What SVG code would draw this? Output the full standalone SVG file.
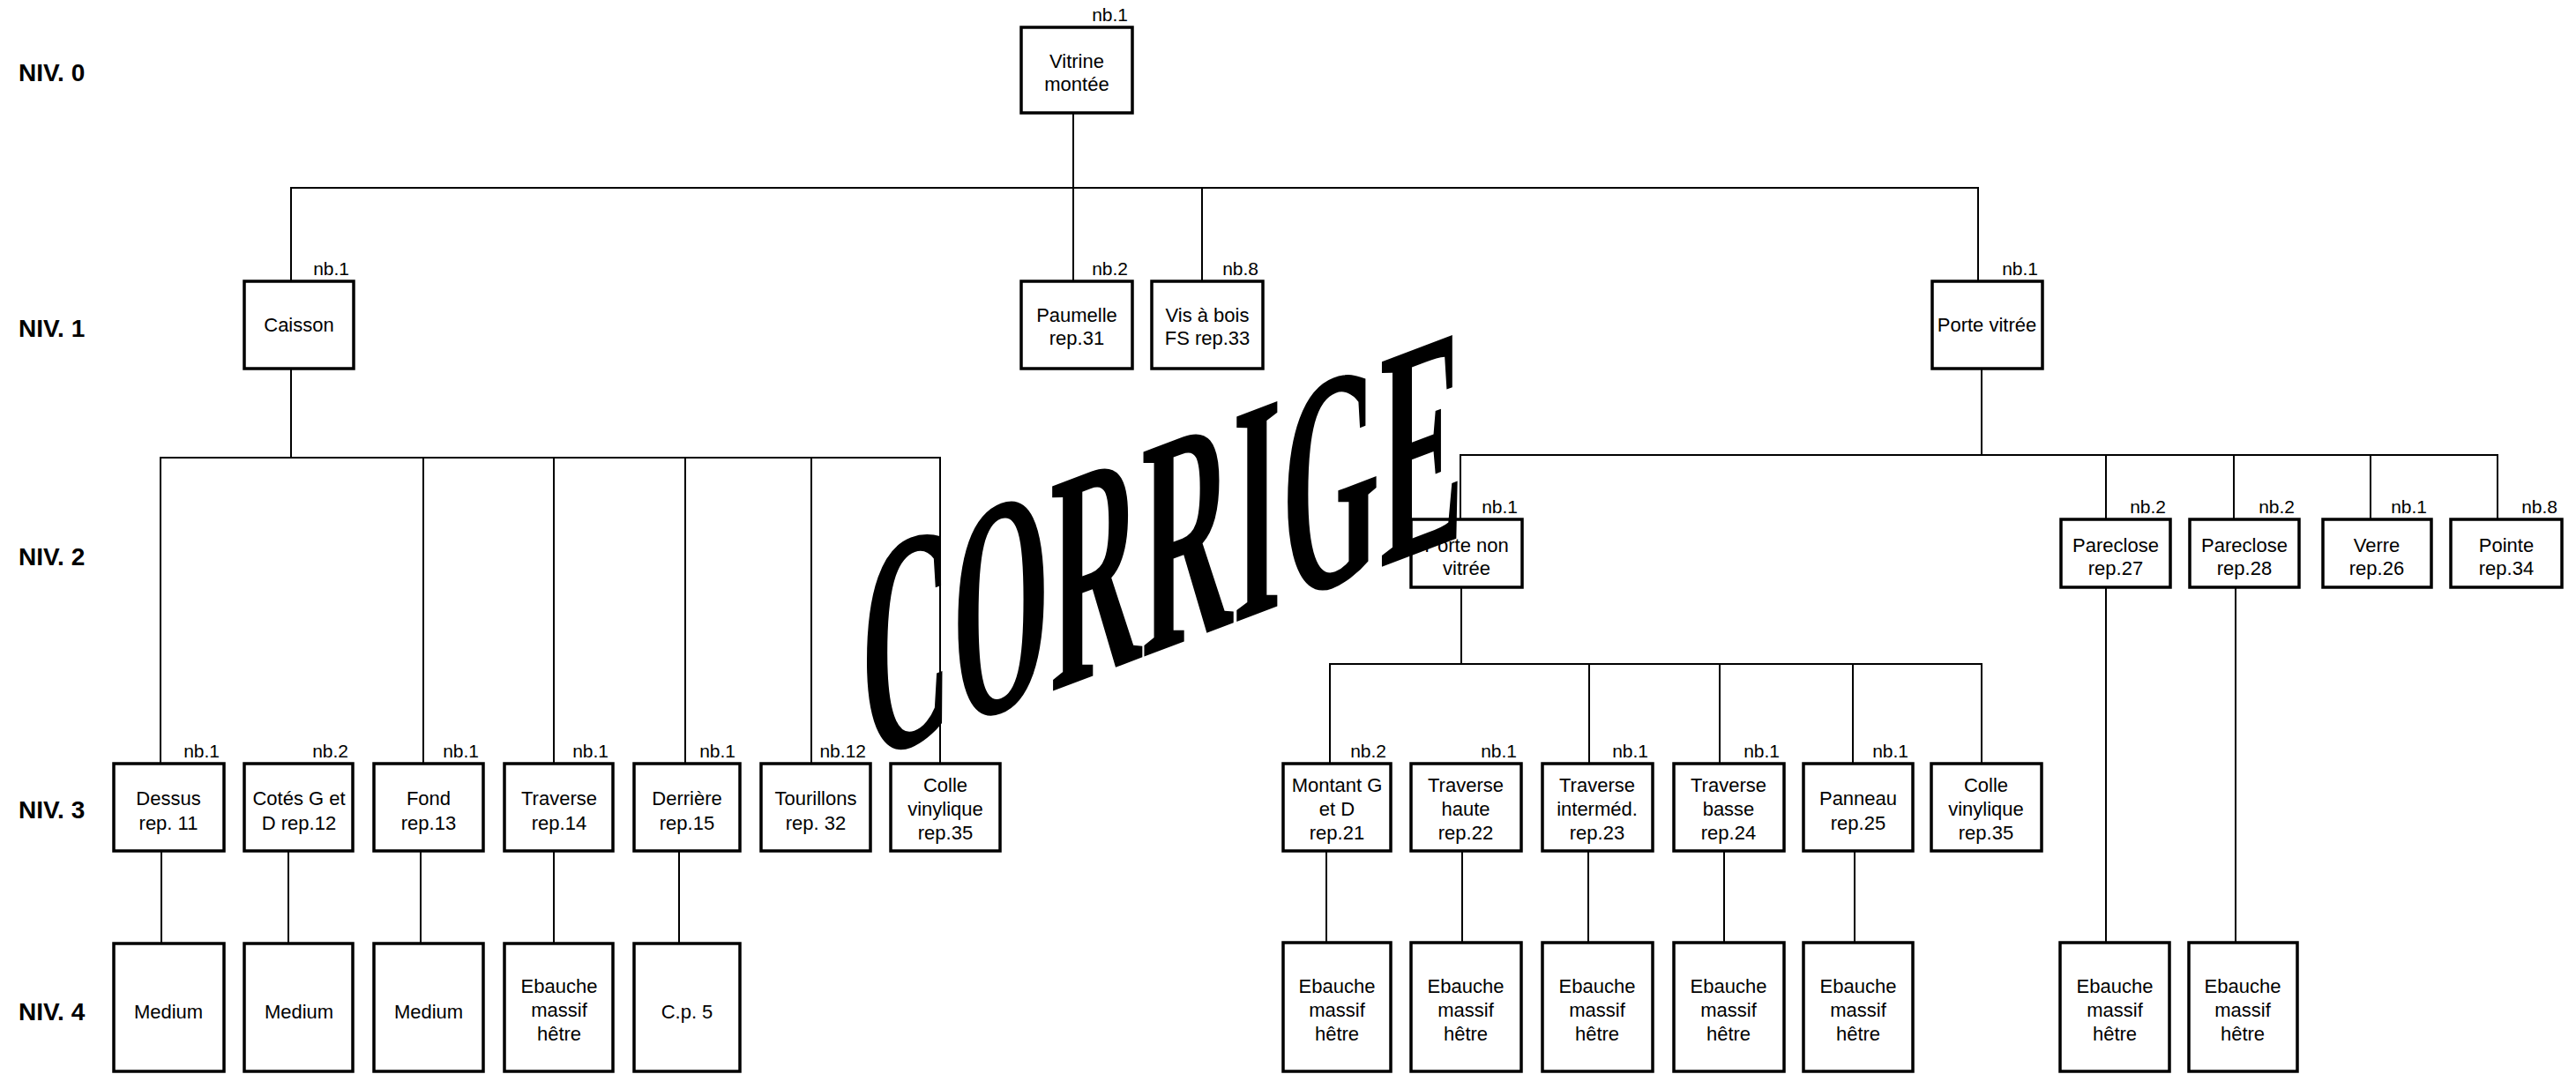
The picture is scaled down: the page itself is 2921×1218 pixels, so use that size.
<svg xmlns="http://www.w3.org/2000/svg" width="2921" height="1218" viewBox="0 0 2921 1218">
<style>
.box{fill:#fff;stroke:#000;stroke-width:3.5}
.ln{fill:none;stroke:#000;stroke-width:2}
text{font-family:"Liberation Sans",Arial,sans-serif;fill:#000}
.t{font-size:22px;text-anchor:middle}
.nb{font-size:21px;text-anchor:end}
.niv{font-size:28px;font-weight:bold}
.wm{font-family:"Liberation Serif","Times New Roman",serif;font-weight:bold;font-size:355px}
</style>
<rect width="2921" height="1218" fill="#fff"/>
<g id="levels">
<text class="niv" x="21" y="92">NIV. 0</text>
<text class="niv" x="21" y="382">NIV. 1</text>
<text class="niv" x="21" y="641">NIV. 2</text>
<text class="niv" x="21" y="928">NIV. 3</text>
<text class="niv" x="21" y="1157">NIV. 4</text>
</g>
<g id="connectors">
<path class="ln" d="M330 320V213H2243V319"/>
<path class="ln" d="M1217 128V319"/>
<path class="ln" d="M1363 213V319"/>
<path class="ln" d="M330 418V519"/>
<path class="ln" d="M182 866V519H1066V866"/>
<path class="ln" d="M480 519V866M628 519V866M777 519V866M920 519V866"/>
<path class="ln" d="M183 965V1070M327 965V1070M477 965V1070M628 965V1070M770 965V1070"/>
<path class="ln" d="M2247 418V516"/>
<path class="ln" d="M1656 589V516H2832V589"/>
<path class="ln" d="M2388 516V589M2533 516V589M2688 516V589"/>
<path class="ln" d="M1657 666V753"/>
<path class="ln" d="M1508 866V753H2247V866"/>
<path class="ln" d="M1802 753V866M1950 753V866M2101 753V866"/>
<path class="ln" d="M1504 965V1069M1658 965V1069M1801 965V1069M1955 965V1069M2103 965V1069"/>
<path class="ln" d="M2388 666V1069M2535 666V1069"/>
</g>
<g id="n-vitrine"><rect class="box" x="1158" y="31" width="126" height="97"/><text class="nb" x="1279" y="24">nb.1</text><text class="t" x="1221" y="77">Vitrine</text><text class="t" x="1221" y="103">montée</text></g>
<g id="n-caisson"><rect class="box" x="277" y="319" width="124" height="99"/><text class="nb" x="396" y="312">nb.1</text><text class="t" x="339" y="376">Caisson</text></g>
<g id="n-paumelle"><rect class="box" x="1158" y="319" width="126" height="99"/><text class="nb" x="1279" y="312">nb.2</text><text class="t" x="1221" y="365">Paumelle</text><text class="t" x="1221" y="391">rep.31</text></g>
<g id="n-vis"><rect class="box" x="1306" y="319" width="126" height="99"/><text class="nb" x="1427" y="312">nb.8</text><text class="t" x="1369" y="365">Vis à bois</text><text class="t" x="1369" y="391">FS rep.33</text></g>
<g id="n-portevitree"><rect class="box" x="2191" y="319" width="125" height="99"/><text class="nb" x="2311" y="312">nb.1</text><text class="t" x="2253" y="376">Porte vitrée</text></g>
<g id="n-portenonvitree"><rect class="box" x="1600" y="589" width="126" height="77"/><text class="nb" x="1721" y="582">nb.1</text><text class="t" x="1663" y="626">Porte non</text><text class="t" x="1663" y="652">vitrée</text></g>
<g id="n-pareclose27"><rect class="box" x="2337" y="589" width="124" height="77"/><text class="nb" x="2456" y="582">nb.2</text><text class="t" x="2399" y="626">Pareclose</text><text class="t" x="2399" y="652">rep.27</text></g>
<g id="n-pareclose28"><rect class="box" x="2483" y="589" width="124" height="77"/><text class="nb" x="2602" y="582">nb.2</text><text class="t" x="2545" y="626">Pareclose</text><text class="t" x="2545" y="652">rep.28</text></g>
<g id="n-verre"><rect class="box" x="2634" y="589" width="123" height="77"/><text class="nb" x="2752" y="582">nb.1</text><text class="t" x="2695" y="626">Verre</text><text class="t" x="2695" y="652">rep.26</text></g>
<g id="n-pointe"><rect class="box" x="2779" y="589" width="126" height="77"/><text class="nb" x="2900" y="582">nb.8</text><text class="t" x="2842" y="626">Pointe</text><text class="t" x="2842" y="652">rep.34</text></g>
<g id="n-dessus"><rect class="box" x="129" y="866" width="125" height="99"/><text class="nb" x="249" y="859">nb.1</text><text class="t" x="191" y="913">Dessus</text><text class="t" x="191" y="941">rep. 11</text></g>
<g id="n-cotes"><rect class="box" x="277" y="866" width="123" height="99"/><text class="nb" x="395" y="859">nb.2</text><text class="t" x="339" y="913">Cotés G et</text><text class="t" x="339" y="941">D  rep.12</text></g>
<g id="n-fond"><rect class="box" x="424" y="866" width="124" height="99"/><text class="nb" x="543" y="859">nb.1</text><text class="t" x="486" y="913">Fond</text><text class="t" x="486" y="941">rep.13</text></g>
<g id="n-traverse14"><rect class="box" x="572" y="866" width="123" height="99"/><text class="nb" x="690" y="859">nb.1</text><text class="t" x="634" y="913">Traverse</text><text class="t" x="634" y="941">rep.14</text></g>
<g id="n-derriere"><rect class="box" x="719" y="866" width="120" height="99"/><text class="nb" x="834" y="859">nb.1</text><text class="t" x="779" y="913">Derrière</text><text class="t" x="779" y="941">rep.15</text></g>
<g id="n-tourillons"><rect class="box" x="863" y="866" width="124" height="99"/><text class="nb" x="982" y="859">nb.12</text><text class="t" x="925" y="913">Tourillons</text><text class="t" x="925" y="941">rep. 32</text></g>
<g id="n-colle1"><rect class="box" x="1010" y="866" width="124" height="99"/><text class="t" x="1072" y="898">Colle</text><text class="t" x="1072" y="925">vinylique</text><text class="t" x="1072" y="952">rep.35</text></g>
<g id="n-montant"><rect class="box" x="1455" y="866" width="122" height="99"/><text class="nb" x="1572" y="859">nb.2</text><text class="t" x="1516" y="898">Montant G</text><text class="t" x="1516" y="925">et D</text><text class="t" x="1516" y="952">rep.21</text></g>
<g id="n-thaute"><rect class="box" x="1600" y="866" width="125" height="99"/><text class="nb" x="1720" y="859">nb.1</text><text class="t" x="1662" y="898">Traverse</text><text class="t" x="1662" y="925">haute</text><text class="t" x="1662" y="952">rep.22</text></g>
<g id="n-tinterm"><rect class="box" x="1749" y="866" width="125" height="99"/><text class="nb" x="1869" y="859">nb.1</text><text class="t" x="1811" y="898">Traverse</text><text class="t" x="1811" y="925">interméd.</text><text class="t" x="1811" y="952">rep.23</text></g>
<g id="n-tbasse"><rect class="box" x="1898" y="866" width="125" height="99"/><text class="nb" x="2018" y="859">nb.1</text><text class="t" x="1960" y="898">Traverse</text><text class="t" x="1960" y="925">basse</text><text class="t" x="1960" y="952">rep.24</text></g>
<g id="n-panneau"><rect class="box" x="2045" y="866" width="124" height="99"/><text class="nb" x="2164" y="859">nb.1</text><text class="t" x="2107" y="913">Panneau</text><text class="t" x="2107" y="941">rep.25</text></g>
<g id="n-colle2"><rect class="box" x="2190" y="866" width="125" height="99"/><text class="t" x="2252" y="898">Colle</text><text class="t" x="2252" y="925">vinylique</text><text class="t" x="2252" y="952">rep.35</text></g>
<g id="n-m1"><rect class="box" x="129" y="1070" width="125" height="145"/><text class="t" x="191" y="1155">Medium</text></g>
<g id="n-m2"><rect class="box" x="277" y="1070" width="123" height="145"/><text class="t" x="339" y="1155">Medium</text></g>
<g id="n-m3"><rect class="box" x="424" y="1070" width="124" height="145"/><text class="t" x="486" y="1155">Medium</text></g>
<g id="n-e14"><rect class="box" x="572" y="1070" width="123" height="145"/><text class="t" x="634" y="1126">Ebauche</text><text class="t" x="634" y="1153">massif</text><text class="t" x="634" y="1180">hêtre</text></g>
<g id="n-cp5"><rect class="box" x="719" y="1070" width="120" height="145"/><text class="t" x="779" y="1155">C.p. 5</text></g>
<g id="n-e21"><rect class="box" x="1455" y="1069" width="122" height="146"/><text class="t" x="1516" y="1126">Ebauche</text><text class="t" x="1516" y="1153">massif</text><text class="t" x="1516" y="1180">hêtre</text></g>
<g id="n-e22"><rect class="box" x="1600" y="1069" width="125" height="146"/><text class="t" x="1662" y="1126">Ebauche</text><text class="t" x="1662" y="1153">massif</text><text class="t" x="1662" y="1180">hêtre</text></g>
<g id="n-e23"><rect class="box" x="1749" y="1069" width="125" height="146"/><text class="t" x="1811" y="1126">Ebauche</text><text class="t" x="1811" y="1153">massif</text><text class="t" x="1811" y="1180">hêtre</text></g>
<g id="n-e24"><rect class="box" x="1898" y="1069" width="125" height="146"/><text class="t" x="1960" y="1126">Ebauche</text><text class="t" x="1960" y="1153">massif</text><text class="t" x="1960" y="1180">hêtre</text></g>
<g id="n-e25"><rect class="box" x="2045" y="1069" width="124" height="146"/><text class="t" x="2107" y="1126">Ebauche</text><text class="t" x="2107" y="1153">massif</text><text class="t" x="2107" y="1180">hêtre</text></g>
<g id="n-e27"><rect class="box" x="2336" y="1069" width="124" height="146"/><text class="t" x="2398" y="1126">Ebauche</text><text class="t" x="2398" y="1153">massif</text><text class="t" x="2398" y="1180">hêtre</text></g>
<g id="n-e28"><rect class="box" x="2482" y="1069" width="123" height="146"/><text class="t" x="2543" y="1126">Ebauche</text><text class="t" x="2543" y="1153">massif</text><text class="t" x="2543" y="1180">hêtre</text></g>
<g id="watermark">
<text class="wm" transform="translate(976,866) skewY(-20.7)" x="0" y="0" textLength="684" lengthAdjust="spacingAndGlyphs">CORRIGE</text>
</g>
</svg>
